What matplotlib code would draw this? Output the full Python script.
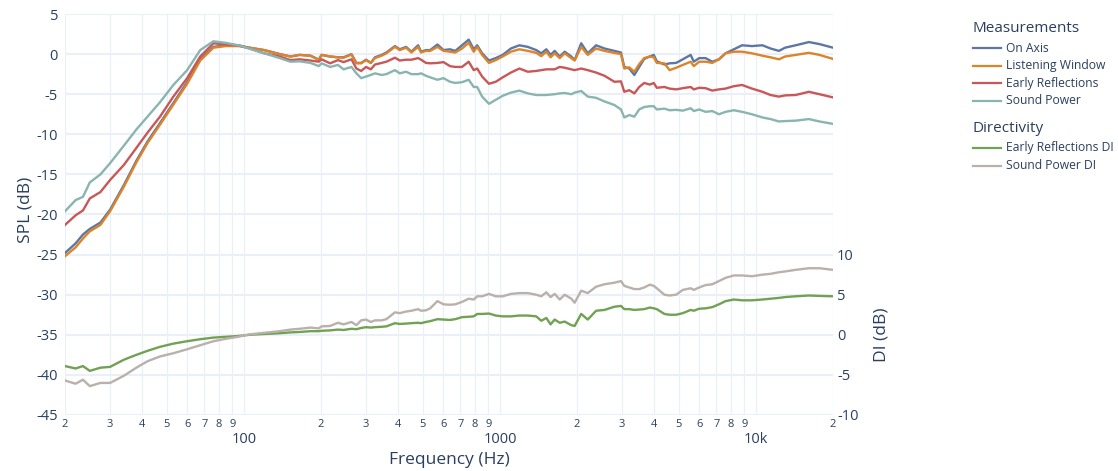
import numpy as np
import matplotlib
matplotlib.use("Agg")
import matplotlib.pyplot as plt
from matplotlib.lines import Line2D
from matplotlib.ticker import FixedLocator, FixedFormatter

plt.rcParams["font.family"] = ["Open Sans", "DejaVu Sans"]
plt.rcParams["axes.unicode_minus"] = False

# frequency grid (Hz) shared by all curves
freq = [20, 22, 23.5, 25, 27.5, 30, 34, 38, 42, 47, 53, 60, 67.5, 76, 85, 95,
        105, 120, 138, 152, 165, 182, 196, 201, 217, 233, 245, 263, 275, 287,
        300, 313, 325, 345, 360, 389, 406, 430, 451, 479, 492, 514, 534, 570,
        602, 638, 669, 711, 755, 790, 815, 852, 906, 963, 1025, 1104, 1191,
        1285, 1386, 1450, 1518, 1577, 1636, 1712, 1790, 1900, 1958, 2077, 2203,
        2375, 2560, 2800, 2970, 3060, 3200, 3350, 3500, 3660, 3850, 3990, 4100,
        4390, 4600, 4880, 5180, 5560, 5720, 6000, 6360, 6750, 7170, 7610, 8200,
        8830, 9650, 10600, 11400, 12300, 13000, 14300, 16100, 17700, 20000]

on_axis = [-24.8, -23.6, -22.5, -21.8, -21.0, -19.4, -16.3, -13.3, -10.9, -8.6,
           -6.1, -3.5, -0.6, 0.9, 1.1, 1.1, 0.8, 0.5, 0.0, -0.3, -0.1, -0.2,
           -0.7, -0.1, -0.3, -0.4, -0.4, 0.0, -1.1, -1.1, -0.7, -1.1, -0.4,
           -0.1, 0.2, 1.0, 0.6, 0.9, 0.3, 1.1, 0.3, 0.5, 0.5, 1.2, 0.5, 0.6,
           0.4, 1.1, 1.8, 0.6, 1.1, 0.1, -0.8, -0.5, -0.1, 0.7, 1.1, 0.9, 0.5,
           0.1, 0.6, -0.1, 0.4, -0.3, 0.3, -0.3, -0.75, 1.35, 0.1, 1.1, 0.7,
           0.4, 0.2, -1.6, -1.8, -2.6, -1.6, -0.6, -0.3, -0.1, -0.9, -1.3,
           -1.15, -1.1, -0.65, -0.1, -0.95, -0.5, -0.5, -0.95, -0.65, 0.1, 0.6,
           1.1, 1.0, 1.1, 0.7, 0.4, 0.8, 1.1, 1.5, 1.25, 0.8]

listening_window = [-25.2, -24.1, -23.0, -22.1, -21.3, -19.6, -16.5, -13.5,
                    -11.1, -8.8, -6.3, -3.7, -0.8, 0.8, 1.0, 1.0, 0.8, 0.5,
                    0.0, -0.3, -0.1, -0.2, -0.7, -0.1, -0.3, -0.4, -0.45,
                    -0.05, -1.15, -1.15, -0.75, -1.1, -0.5, -0.2, 0.1, 0.9,
                    0.5, 0.8, 0.2, 0.9, 0.2, 0.4, 0.4, 0.9, 0.4, 0.3, 0.2, 0.7,
                    1.4, 0.3, 0.9, -0.1, -1.1, -0.75, -0.3, 0.3, 0.6, 0.4,
                    0.16, -0.25, 0.3, -0.4, 0.1, -0.5, 0.1, -0.5, -0.8, 0.9,
                    -0.1, 0.7, 0.4, 0.15, 0.0, -1.8, -1.65, -2.2, -1.25, -0.5,
                    -0.3, -0.4, -1.1, -1.15, -2.0, -1.7, -1.35, -0.95, -1.5,
                    -0.95, -0.95, -1.1, -0.65, 0.1, 0.3, 0.3, 0.1, -0.2, -0.4,
                    -0.65, -0.3, -0.1, 0.16, -0.1, -0.6]

early_reflections = [-21.3, -20.1, -19.5, -18.0, -17.2, -15.7, -13.8, -11.7,
                     -9.8, -7.8, -5.3, -3.0, -0.3, 1.35, 1.2, 1.1, 0.7, 0.1,
                     -0.3, -0.75, -0.65, -0.8, -0.95, -0.65, -1.15, -0.75,
                     -1.0, -0.65, -1.8, -2.1, -1.6, -1.9, -1.3, -1.1, -0.95,
                     -0.45, -0.8, -0.7, -0.7, -0.5, -0.7, -1.1, -1.15, -1.1,
                     -1.0, -1.5, -1.6, -1.6, -0.95, -2.0, -1.8, -2.8, -3.7,
                     -3.45, -2.9, -2.3, -1.8, -2.2, -2.1, -2.0, -1.9, -1.9,
                     -1.9, -1.6, -1.7, -1.9, -2.0, -1.8, -2.0, -2.3, -2.7,
                     -3.45, -3.4, -4.7, -4.5, -4.9, -4.1, -3.6, -3.8, -3.6,
                     -4.2, -4.1, -4.3, -4.4, -4.25, -4.1, -4.4, -4.2, -4.25,
                     -4.55, -4.4, -4.3, -4.0, -3.85, -4.3, -4.7, -5.1, -5.3,
                     -5.15, -5.1, -4.7, -5.0, -5.4]

sound_power = [-19.6, -18.2, -17.8, -16.0, -15.0, -13.6, -11.4, -9.4, -7.8,
               -6.0, -3.85, -2.0, 0.5, 1.6, 1.4, 1.1, 0.7, 0.1, -0.5, -0.95,
               -0.9, -1.1, -1.5, -1.15, -1.6, -1.35, -1.9, -1.6, -2.4, -3.0,
               -2.8, -2.6, -2.4, -2.6, -2.5, -2.0, -2.4, -2.2, -2.5, -2.5,
               -2.4, -2.7, -2.9, -3.2, -3.0, -3.45, -3.6, -3.5, -3.2, -4.1,
               -4.1, -5.3, -6.2, -5.7, -5.2, -4.8, -4.55, -4.9, -5.1, -5.1,
               -5.1, -5.05, -5.0, -4.9, -4.85, -5.0, -4.8, -4.6, -5.3, -5.45,
               -5.9, -6.35, -6.9, -7.9, -7.6, -7.8, -6.9, -6.6, -6.5, -6.5,
               -6.9, -6.8, -7.0, -6.95, -7.05, -6.75, -7.1, -6.9, -7.2, -7.1,
               -7.5, -7.2, -7.0, -7.2, -7.5, -7.9, -8.1, -8.4, -8.35, -8.3,
               -8.1, -8.4, -8.7]

early_reflections_di = [-3.9, -4.2, -3.9, -4.5, -4.1, -4.0, -3.1, -2.5, -2.0,
                        -1.5, -1.1, -0.8, -0.55, -0.35, -0.25, -0.15, 0.0,
                        0.1, 0.2, 0.3, 0.35, 0.45, 0.45, 0.5, 0.55, 0.65, 0.6,
                        0.75, 0.7, 0.85, 0.95, 0.9, 0.95, 1.0, 1.05, 1.45,
                        1.35, 1.4, 1.45, 1.5, 1.45, 1.6, 1.7, 1.95, 1.9, 1.85,
                        1.95, 2.2, 2.25, 2.3, 2.6, 2.6, 2.65, 2.4, 2.3, 2.3,
                        2.4, 2.4, 2.3, 1.75, 2.1, 1.3, 1.9, 1.5, 1.65, 1.2,
                        1.1, 2.6, 1.9, 3.0, 3.1, 3.5, 3.6, 3.2, 3.2, 3.1, 3.15,
                        3.2, 3.4, 3.3, 3.2, 2.6, 2.5, 2.5, 2.7, 3.1, 3.0, 3.25,
                        3.3, 3.45, 3.8, 4.2, 4.4, 4.3, 4.3, 4.4, 4.5, 4.6,
                        4.7, 4.8, 4.9, 4.85, 4.8]

sound_power_di = [-5.7, -6.1, -5.6, -6.4, -6.0, -6.0, -5.1, -4.1, -3.3, -2.7,
                  -2.3, -1.8, -1.3, -0.8, -0.5, -0.25, 0.05, 0.25, 0.45, 0.65,
                  0.75, 0.9, 0.8, 1.05, 1.1, 1.5, 1.3, 1.6, 1.2, 1.8, 1.9, 1.6,
                  1.8, 1.8, 1.95, 2.8, 2.7, 2.9, 3.0, 3.2, 3.0, 3.05, 3.3, 4.2,
                  3.8, 3.75, 3.8, 4.1, 4.5, 4.4, 4.8, 4.8, 5.1, 4.8, 4.8, 5.1,
                  5.2, 5.2, 5.0, 4.8, 5.3, 4.7, 5.1, 4.4, 5.0, 4.5, 4.0, 5.5,
                  5.2, 6.0, 6.3, 6.5, 6.7, 6.1, 5.9, 5.7, 5.7, 5.9, 6.25, 6.1,
                  5.8, 5.0, 4.9, 5.0, 5.6, 5.8, 5.6, 5.9, 6.2, 6.3, 6.7, 7.1,
                  7.4, 7.4, 7.3, 7.5, 7.6, 7.8, 7.9, 8.1, 8.3, 8.3, 8.1]

spl_names = ["On Axis", "Listening Window", "Early Reflections", "Sound Power"]
di_names = ["Early Reflections DI", "Sound Power DI"]
spl_colors = ["#5c77a5", "#dc842a", "#c85857", "#89b5b1"]
di_colors = ["#71a152", "#bab0ac"]

spl_ticks = [5, 0, -5, -10, -15, -20, -25, -30, -35, -40, -45]
di_ticks = [-10, -5, 0, 5, 10]
major_freqs = [100, 1000, 10000]
major_labels = ["100", "1000", "10k"]

TEXT = "#2a3f5f"
GRID = "#ebf0f8"
W, H = 1118, 471

fig = plt.figure(figsize=(W / 100, H / 100), dpi=100)
ax = fig.add_axes([65 / W, 1 - 415 / H, (833 - 65) / W, (415 - 14) / H])
ax2 = ax.twinx()

for vals, name, col in zip([on_axis, listening_window, early_reflections, sound_power],
                           spl_names, spl_colors):
    ax.plot(freq, vals, color=col, lw=1.7, label=name)
for vals, name, col in zip([early_reflections_di, sound_power_di], di_names, di_colors):
    ax2.plot(freq, vals, color=col, lw=1.7, label=name)

ax.set_xscale("log")
ax.set_xlim(20, 20000)
ax.set_ylim(-45, 5)
ax2.set_ylim(-10, 40)

# x ticks: big labels for decades, small digits in between
minor_freqs = [m * d for d in (10, 100, 1000) for m in range(2, 10)] + [20000]
minor_labels = [str(int(f))[0] for f in minor_freqs]
ax.xaxis.set_major_locator(FixedLocator(major_freqs))
ax.xaxis.set_major_formatter(FixedFormatter(major_labels))
ax.xaxis.set_minor_locator(FixedLocator(minor_freqs))
ax.xaxis.set_minor_formatter(FixedFormatter(minor_labels))
ax.tick_params(axis="x", which="major", length=0, pad=12, labelsize=10.5, labelcolor=TEXT)
ax.tick_params(axis="x", which="minor", length=0, pad=3, labelsize=8, labelcolor=TEXT)

ax.set_yticks(spl_ticks)
ax.set_yticklabels([str(t) for t in spl_ticks])
ax.tick_params(axis="y", length=0, pad=5, labelsize=10.5, labelcolor=TEXT)
ax2.set_yticks(di_ticks)
ax2.set_yticklabels([str(t) for t in di_ticks])
ax2.tick_params(axis="y", length=0, pad=3, labelsize=10.5, labelcolor=TEXT)

ax.grid(True, which="both", axis="x", color=GRID, lw=0.9)
ax.grid(True, axis="y", color=GRID, lw=1.5)
ax.set_axisbelow(True)
for a in (ax, ax2):
    for s in a.spines.values():
        s.set_visible(False)

fig.text(25 / W, 1 - 210 / H, "SPL (dB)", rotation=90, ha="center", va="center",
         fontsize=12.5, color=TEXT)
fig.text(881 / W, 1 - 335 / H, "DI (dB)", rotation=90, ha="center", va="center",
         fontsize=12.5, color=TEXT)
fig.text(449 / W, 1 - 460 / H, "Frequency (Hz)", ha="center", va="center",
         fontsize=12.5, color=TEXT)

# legend, plotly style with two groups
def legend_group(title, names, colors, y0):
    fig.text(973 / W, 1 - y0 / H, title, ha="left", va="center", fontsize=11, color=TEXT)
    for i, (n, c) in enumerate(zip(names, colors)):
        y = y0 + 19 + i * 17.5
        fig.add_artist(Line2D([973 / W, 1001 / W], [1 - y / H, 1 - y / H],
                              color=c, lw=1.6, transform=fig.transFigure))
        fig.text(1006 / W, 1 - y / H, n, ha="left", va="center", fontsize=8.7, color=TEXT)

legend_group("Measurements", spl_names, spl_colors, 29)
legend_group("Directivity", di_names, di_colors, 129)

fig.savefig("out.png", dpi=100)
